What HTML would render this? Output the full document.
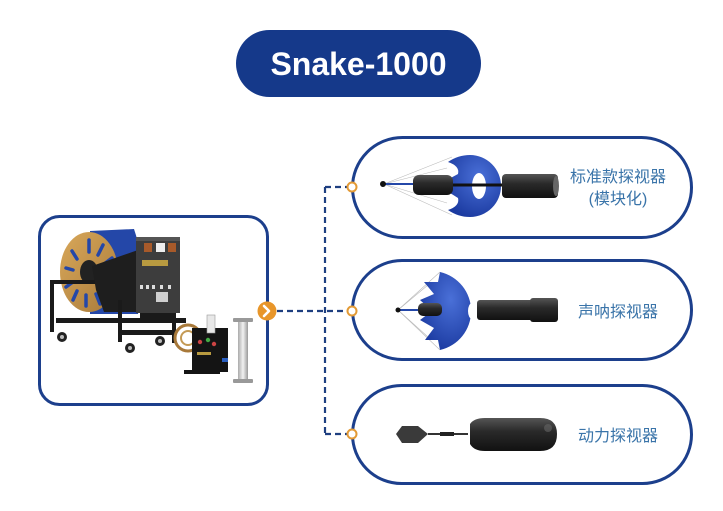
<!DOCTYPE html>
<html><head><meta charset="utf-8">
<style>
html,body{margin:0;padding:0;background:#fff;}
svg{display:block;}
.t{font-family:"Liberation Sans","Noto Sans CJK SC",sans-serif;}
</style></head>
<body>
<svg width="723" height="511" viewBox="0 0 723 511" xmlns="http://www.w3.org/2000/svg">
<defs>
<linearGradient id="gold" x1="0" y1="0" x2="1" y2="1"><stop offset="0" stop-color="#d9a85a"/><stop offset="1" stop-color="#a87a3a"/></linearGradient>
<linearGradient id="cyl" x1="0" y1="0" x2="0" y2="1"><stop offset="0" stop-color="#555"/><stop offset="0.4" stop-color="#2a2a2a"/><stop offset="1" stop-color="#111"/></linearGradient>
<linearGradient id="silver" x1="0" y1="0" x2="1" y2="0"><stop offset="0" stop-color="#aaa"/><stop offset="0.5" stop-color="#f2f2f2"/><stop offset="1" stop-color="#999"/></linearGradient>
<radialGradient id="ball" cx="0.6" cy="0.35" r="0.7"><stop offset="0" stop-color="#4a70d8"/><stop offset="1" stop-color="#1b3aa0"/></radialGradient>
</defs>

<!-- Title pill -->
<rect x="236" y="30" width="245" height="67" rx="33.5" fill="#15398a"/>
<text x="358.5" y="75" text-anchor="middle" class="t" font-size="32" font-weight="bold" fill="#fff">Snake-1000</text>

<!-- Left box -->
<rect x="39.5" y="216.5" width="228" height="188" rx="20" fill="#fff" stroke="#1c3f8c" stroke-width="3"/>

<!-- Machine -->
<g>
  <!-- blue drum -->
  <path d="M90 231 L134 229 Q148 270 138 314 L90 314 Z" fill="#2447a8"/>
  <!-- golden disc -->
  <ellipse cx="89" cy="272" rx="29" ry="40" fill="url(#gold)"/>
  <g stroke="#2447a8" stroke-width="3.5" stroke-linecap="round">
    <line x1="89" y1="240" x2="89" y2="252"/>
    <line x1="103" y1="245" x2="98" y2="255"/>
    <line x1="112" y1="258" x2="104" y2="264"/>
    <line x1="114" y1="275" x2="106" y2="276"/>
    <line x1="110" y1="293" x2="103" y2="287"/>
    <line x1="100" y1="304" x2="96" y2="294"/>
    <line x1="86" y1="306" x2="86" y2="295"/>
    <line x1="73" y1="300" x2="77" y2="291"/>
    <line x1="66" y1="287" x2="73" y2="282"/>
    <line x1="66" y1="268" x2="73" y2="270"/>
    <line x1="72" y1="251" x2="77" y2="259"/>
  </g>
  <ellipse cx="89" cy="272" rx="9" ry="12" fill="#222"/>
  <!-- black side panel -->
  <path d="M92 266 L138 250 L138 312 L104 312 L96 290 Z" fill="#1e1e1e"/>
  <!-- cabinet -->
  <rect x="136" y="237" width="44" height="76" fill="#3d3d3d"/>
  <rect x="136" y="237" width="44" height="4" fill="#555"/>
  <rect x="144" y="243" width="8" height="9" fill="#a85a2a"/>
  <rect x="156" y="243" width="9" height="9" fill="#eee"/>
  <rect x="168" y="243" width="8" height="9" fill="#a85a2a"/>
  <rect x="142" y="260" width="26" height="6" fill="#b89a40"/>
  <g fill="#ddd"><rect x="140" y="285" width="3" height="4"/><rect x="146" y="285" width="3" height="4"/><rect x="152" y="285" width="3" height="4"/><rect x="160" y="285" width="3" height="4"/><rect x="168" y="285" width="3" height="4"/></g>
  <rect x="156" y="292" width="12" height="10" fill="#cfcfcf"/>
  <!-- frame -->
  <g fill="#1a1a1a">
    <rect x="50" y="280" width="45" height="4"/>
    <rect x="50" y="280" width="4" height="52"/>
    <rect x="56" y="318" width="130" height="5"/>
    <rect x="118" y="300" width="4" height="42"/>
    <rect x="172" y="313" width="4" height="30"/>
    <rect x="120" y="330" width="56" height="5"/>
    <rect x="140" y="313" width="35" height="8"/>
  </g>
  <!-- wheels -->
  <g fill="#222"><circle cx="62" cy="337" r="5"/><circle cx="130" cy="348" r="5"/><circle cx="160" cy="341" r="5"/></g>
  <g fill="#bbb"><circle cx="62" cy="337" r="2"/><circle cx="130" cy="348" r="2"/><circle cx="160" cy="341" r="2"/></g>
</g>

<!-- small unit -->
<g>
  <circle cx="188" cy="338" r="13" fill="none" stroke="#a8793a" stroke-width="3"/>
  <circle cx="188" cy="338" r="7" fill="none" stroke="#c49a55" stroke-width="2"/>
  <rect x="192" y="328" width="36" height="44" fill="#141414"/>
  <rect x="184" y="370" width="36" height="4" fill="#141414"/>
  <rect x="207" y="315" width="8" height="18" fill="#e8e8e8" stroke="#999" stroke-width="0.6"/>
  <circle cx="200" cy="342" r="2.2" fill="#c44"/>
  <circle cx="208" cy="340" r="2.2" fill="#4a4"/>
  <circle cx="214" cy="344" r="2.2" fill="#c44"/>
  <rect x="197" y="352" width="14" height="3" fill="#b89a40"/>
  <rect x="222" y="358" width="6" height="4" fill="#2a5fc0"/>
</g>
<!-- silver cylinder -->
<g>
  <rect x="233" y="318" width="20" height="4" rx="1" fill="#999"/>
  <rect x="238" y="322" width="10" height="58" fill="url(#silver)"/>
  <rect x="233" y="379" width="20" height="4" rx="1" fill="#999"/>
</g>

<!-- connectors -->
<g stroke="#1e3f80" stroke-width="2.2" stroke-dasharray="6 4" fill="none">
  <line x1="277" y1="311" x2="347" y2="311"/>
  <line x1="325" y1="187" x2="325" y2="434"/>
  <line x1="325" y1="187" x2="347" y2="187"/>
  <line x1="325" y1="434" x2="347" y2="434"/>
</g>

<!-- Pills -->
<rect x="352.5" y="137.5" width="339" height="100" rx="50" fill="#fff" stroke="#1c3f8c" stroke-width="3"/>
<rect x="352.5" y="260.5" width="339" height="99" rx="49.5" fill="#fff" stroke="#1c3f8c" stroke-width="3"/>
<rect x="352.5" y="385.5" width="339" height="98" rx="49" fill="#fff" stroke="#1c3f8c" stroke-width="3"/>

<!-- small orange circles -->
<g fill="#fff" stroke="#e39a35" stroke-width="2">
  <circle cx="352" cy="187" r="4.5"/>
  <circle cx="352" cy="311" r="4.5"/>
  <circle cx="352" cy="434" r="4.5"/>
</g>

<!-- orange chevron circle -->
<circle cx="267" cy="311" r="9.5" fill="#e8962a"/>
<path d="M264 306 L269 311 L264 316" fill="none" stroke="#fff" stroke-width="2.6" stroke-linecap="round" stroke-linejoin="round"/>

<!-- Probe 1 -->
<g>
  <g stroke="#bbb" stroke-width="0.6" fill="none">
    <line x1="384" y1="184" x2="452" y2="157"/>
    <line x1="384" y1="184" x2="447" y2="168"/>
    <line x1="384" y1="184" x2="447" y2="203"/>
    <line x1="384" y1="184" x2="452" y2="215"/>
  </g>
  <path d="M470 155 A31 31 0 1 1 470 217 Q458 217 448 210 Q460 206 458 198 Q452 194 446 191 Q456 187 446 181 Q452 177 458 174 Q460 166 448 162 Q458 155 470 155 Z" fill="url(#ball)"/>
  <ellipse cx="479" cy="186" rx="7" ry="13" fill="#fff"/>
  <line x1="384" y1="184" x2="414" y2="184" stroke="#2447a8" stroke-width="2"/>
  <circle cx="383" cy="184" r="3" fill="#111"/>
  <rect x="413" y="175" width="40" height="20" rx="6" fill="url(#cyl)"/>
  <line x1="453" y1="185" x2="503" y2="185" stroke="#111" stroke-width="3"/>
  <rect x="502" y="174" width="56" height="24" rx="4" fill="url(#cyl)"/>
  <ellipse cx="556" cy="186" rx="3" ry="10" fill="#666"/>
</g>
<text x="618" y="182" text-anchor="middle" class="t" font-size="16" fill="#3a74a9">标准款探视器</text>
<text x="618" y="204" text-anchor="middle" class="t" font-size="16" fill="#3a74a9">(模块化)</text>

<!-- Probe 2 -->
<g>
  <g stroke="#bbb" stroke-width="0.6" fill="none">
    <line x1="398" y1="310" x2="440" y2="272"/>
    <line x1="398" y1="310" x2="428" y2="285"/>
    <line x1="398" y1="310" x2="428" y2="337"/>
    <line x1="398" y1="310" x2="440" y2="350"/>
  </g>
  <path d="M440 272 A40 40 0 0 1 440 350 L438 340 L425 340 L434 328 L420 320 L432 311 L420 300 L434 294 L424 282 L438 282 Z" fill="url(#ball)"/>
  <line x1="398" y1="310" x2="420" y2="310" stroke="#2447a8" stroke-width="2"/>
  <circle cx="398" cy="310" r="2.5" fill="#111"/>
  <rect x="418" y="303" width="24" height="13" rx="5" fill="url(#cyl)"/>
  <ellipse cx="472" cy="311" rx="4" ry="8" fill="#fff"/>
  <rect x="477" y="300" width="81" height="20" rx="3" fill="url(#cyl)"/>
  <rect x="530" y="298" width="28" height="24" rx="3" fill="url(#cyl)"/>
</g>
<text x="618" y="317" text-anchor="middle" class="t" font-size="16" fill="#3a74a9">声呐探视器</text>

<!-- Probe 3 -->
<g>
  <path d="M396 434 L402 426 L418 426 L428 434 L418 443 L402 443 Z" fill="#3a3a3a"/>
  <line x1="428" y1="434" x2="468" y2="434" stroke="#333" stroke-width="2"/>
  <rect x="440" y="432" width="14" height="4" fill="#222"/>
  <path d="M470 424 Q474 418 485 418 L540 418 Q557 418 557 434 Q557 451 540 451 L485 451 Q474 451 470 444 Z" fill="url(#cyl)"/>
  <ellipse cx="548" cy="428" rx="4" ry="4" fill="#666" opacity="0.6"/>
</g>
<text x="618" y="441" text-anchor="middle" class="t" font-size="16" fill="#3a74a9">动力探视器</text>
</svg>
</body></html>
